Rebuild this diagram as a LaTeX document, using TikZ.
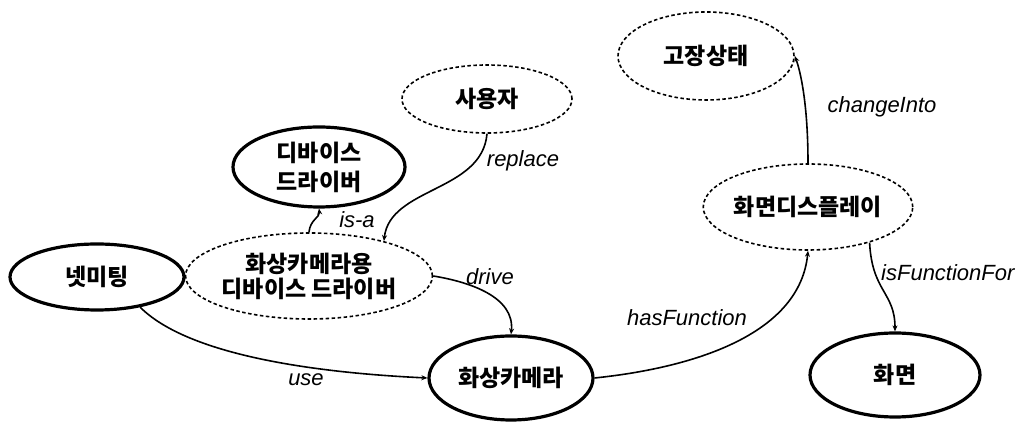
\documentclass[tikz,border=0pt]{standalone}
\usepackage{fontspec}
\setmainfont{Liberation Sans}
\newfontfamily\kr{Noto Sans CJK KR}
\usetikzlibrary{shapes.geometric,arrows.meta}
\begin{document}
\begin{tikzpicture}[x=1pt,y=1pt,
  concept/.style={ellipse,inner sep=0pt,align=center,
    font=\kr\bfseries\fontsize{23}{25}\selectfont},
  solidc/.style={concept,draw,line width=3.2pt},
  dashc/.style={concept,draw,line width=1.6pt,dash pattern=on 3.5pt off 2.5pt},
  rel/.style={line width=1.6pt,-{Stealth[length=6pt,width=5pt]}},
  lab/.style={font=\itshape\fontsize{22}{24}\selectfont,inner sep=1pt}]
\useasboundingbox (0,0) rectangle (1023,422);
\node[dashc,minimum width=176pt,minimum height=88pt] (gojang) at (706,366) {고장상태};
\node[dashc,minimum width=170pt,minimum height=68pt] (user) at (487,323) {사용자};
\node[solidc,minimum width=172pt,minimum height=80pt,font=\kr\bfseries\fontsize{23}{29}\selectfont] (devdrv) at (319,255) {디바이스\\드라이버};
\node[dashc,minimum width=208pt,minimum height=86pt] (camdrv) at (309,146) {화상카메라용\\디바이스 드라이버};
\node[solidc,minimum width=174pt,minimum height=66pt] (net) at (97,145) {넷미팅};
\node[solidc,minimum width=164pt,minimum height=84pt] (cam) at (511,44) {화상카메라};
\node[dashc,minimum width=170pt,minimum height=86pt] (disp) at (808,215) {화면디스플레이};
\node[solidc,minimum width=170pt,minimum height=84pt] (screen) at (895,47) {화면};

\draw[rel] (net.-35) .. controls (185,70) and (300,50) .. (cam.west);
\node[lab] (luse) at (306,42) {use};
\draw[rel] (camdrv.east) .. controls (470,140) and (515,125) .. (cam.north);
\node[lab] (ldrive) at (490,145) {drive};
\draw[rel] (camdrv.north) .. controls (310,202) and (320,205) .. (devdrv.south);
\node[lab] (lisa) at (357,202) {is-a};
\draw[rel] (user.south) .. controls (482,230) and (390,235) .. (camdrv.25);
\node[lab] (lreplace) at (523,261) {replace};
\draw[rel] (cam.east) .. controls (700,55) and (800,90) .. (disp.south);
\node[lab] (lhas) at (687,104) {hasFunction};
\draw[rel] (disp.north) .. controls (808,320) and (800,352) .. (gojang.east);
\node[lab] (lchange) at (882,315) {changeInto};
\draw[rel] (disp.-30) .. controls (872,130) and (895,130) .. (screen.north);
\node[lab,anchor=west] (lisf) at (880,149) {isFunctionFor};
\end{tikzpicture}
\end{document}
